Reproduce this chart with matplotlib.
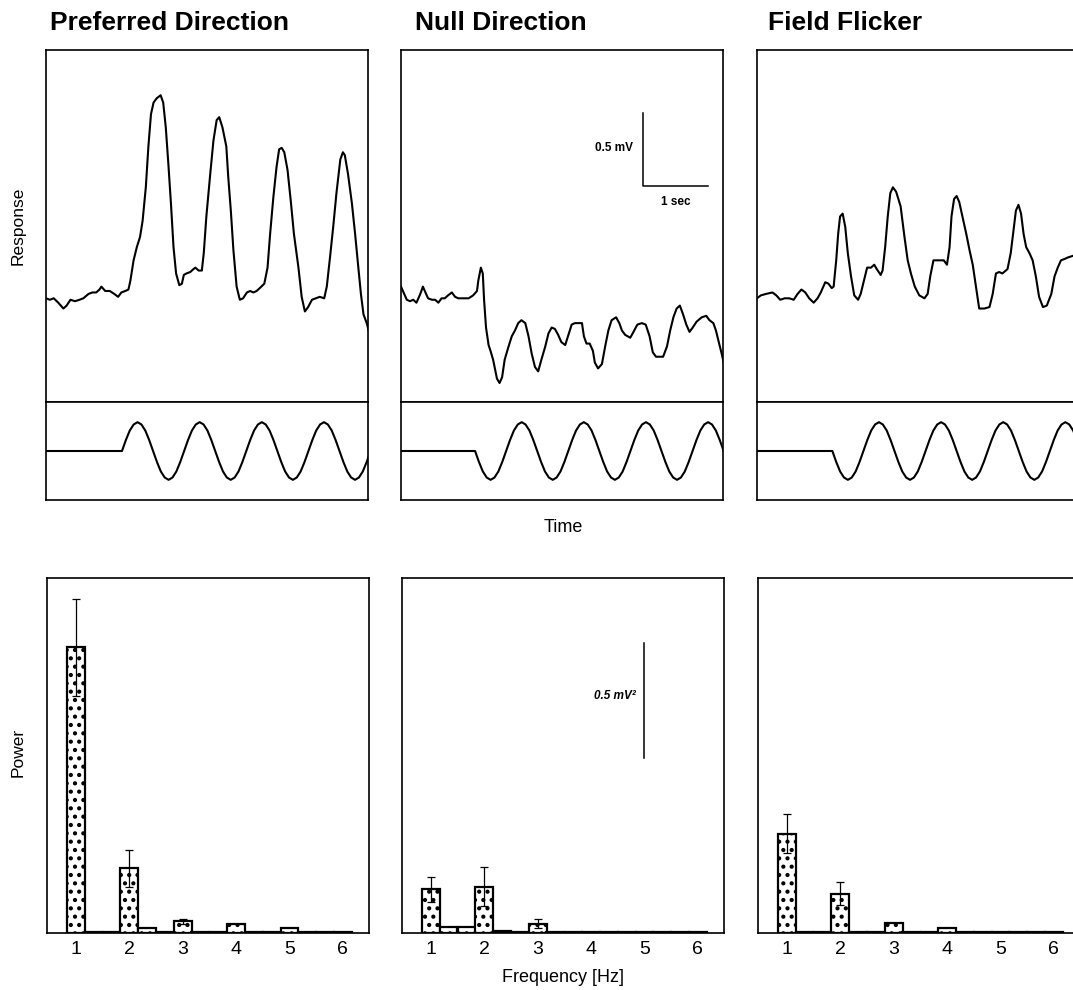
import numpy as np
import matplotlib
matplotlib.use("Agg")
import matplotlib.pyplot as plt

plt.rcParams['font.family'] = ['Liberation Sans', 'DejaVu Sans']
plt.rcParams['hatch.linewidth'] = 1.8

conditions = ["Preferred Direction", "Null Direction", "Field Flicker"]

# membrane response, time in s, potential in mV relative to resting level
pref_t = [0.00, 0.06, 0.12, 0.19, 0.27, 0.32, 0.38, 0.45, 0.52, 0.58, 0.66, 0.72, 0.78, 0.83, 0.86,
          0.92, 0.99, 1.06, 1.12, 1.17, 1.23, 1.28, 1.31, 1.36, 1.41, 1.46, 1.50, 1.55, 1.59, 1.63,
          1.67, 1.72, 1.78, 1.82, 1.86, 1.90, 1.94, 1.98, 2.02, 2.07, 2.11, 2.14, 2.18, 2.24, 2.29,
          2.32, 2.37, 2.42, 2.45, 2.49, 2.55, 2.60, 2.65, 2.69, 2.74, 2.80, 2.83, 2.87, 2.91, 2.96,
          3.01, 3.06, 3.12, 3.17, 3.22, 3.27, 3.32, 3.39, 3.44, 3.48, 3.53, 3.58, 3.62, 3.66, 3.70,
          3.75, 3.80, 3.85, 3.92, 3.97, 4.02, 4.07, 4.13, 4.19, 4.25, 4.32, 4.36, 4.41, 4.46, 4.51,
          4.57, 4.61, 4.64, 4.69, 4.75, 4.80, 4.85, 4.89, 4.93, 4.98, 5.01]
pref_v = [0.00, -0.01, 0.00, -0.03, -0.07, -0.05, -0.01, -0.02, -0.01, 0.00, 0.03, 0.04, 0.04, 0.06, 0.08,
          0.05, 0.05, 0.03, 0.01, 0.04, 0.05, 0.06, 0.12, 0.26, 0.35, 0.42, 0.53, 0.76, 1.04, 1.26,
          1.34, 1.37, 1.39, 1.34, 1.17, 0.92, 0.65, 0.35, 0.17, 0.09, 0.10, 0.16, 0.17, 0.18, 0.20,
          0.21, 0.19, 0.19, 0.31, 0.56, 0.85, 1.08, 1.22, 1.24, 1.17, 1.04, 0.83, 0.60, 0.33, 0.08,
          -0.01, 0.00, 0.04, 0.05, 0.04, 0.05, 0.07, 0.10, 0.21, 0.44, 0.69, 0.90, 1.02, 1.03, 1.00,
          0.88, 0.67, 0.44, 0.21, 0.01, -0.09, -0.06, -0.01, 0.00, 0.01, 0.00, 0.08, 0.28, 0.49, 0.72,
          0.95, 1.00, 0.98, 0.85, 0.65, 0.44, 0.21, 0.03, -0.11, -0.17, -0.22]

null_t = [0.00, 0.04, 0.09, 0.14, 0.19, 0.24, 0.30, 0.34, 0.37, 0.42, 0.48, 0.53, 0.58, 0.63, 0.68,
          0.73, 0.79, 0.84, 0.89, 0.97, 1.05, 1.12, 1.18, 1.20, 1.24, 1.27, 1.29, 1.32, 1.36, 1.39,
          1.43, 1.49, 1.53, 1.57, 1.61, 1.67, 1.72, 1.77, 1.82, 1.87, 1.93, 1.98, 2.03, 2.08, 2.13,
          2.18, 2.24, 2.29, 2.34, 2.39, 2.44, 2.49, 2.55, 2.60, 2.65, 2.70, 2.81, 2.84, 2.88, 2.93,
          2.98, 3.01, 3.06, 3.12, 3.17, 3.22, 3.27, 3.34, 3.39, 3.43, 3.48, 3.56, 3.61, 3.67, 3.74,
          3.80, 3.86, 3.91, 3.96, 4.07, 4.13, 4.18, 4.23, 4.28, 4.33, 4.38, 4.43, 4.48, 4.53, 4.59,
          4.67, 4.74, 4.79, 4.85, 4.89, 4.94, 4.98, 5.01]
null_v = [0.08, 0.04, -0.01, -0.02, -0.01, -0.03, 0.03, 0.08, 0.05, 0.00, -0.01, -0.01, -0.03, 0.00, 0.00,
          0.02, 0.04, 0.01, 0.00, 0.00, 0.00, 0.02, 0.05, 0.12, 0.21, 0.17, -0.01, -0.20, -0.32, -0.36,
          -0.42, -0.55, -0.58, -0.54, -0.42, -0.33, -0.26, -0.22, -0.17, -0.15, -0.17, -0.26, -0.38, -0.47, -0.50,
          -0.42, -0.33, -0.24, -0.20, -0.21, -0.25, -0.30, -0.32, -0.25, -0.18, -0.17, -0.17, -0.26, -0.31, -0.31,
          -0.36, -0.44, -0.48, -0.45, -0.33, -0.22, -0.15, -0.13, -0.17, -0.22, -0.25, -0.27, -0.23, -0.18, -0.17,
          -0.18, -0.26, -0.37, -0.40, -0.40, -0.33, -0.22, -0.13, -0.07, -0.05, -0.11, -0.18, -0.23, -0.20, -0.16,
          -0.13, -0.12, -0.15, -0.17, -0.22, -0.31, -0.38, -0.44]

flick_t = [0.00, 0.06, 0.14, 0.24, 0.30, 0.36, 0.43, 0.50, 0.57, 0.63, 0.69, 0.75, 0.81, 0.88, 0.94,
           0.99, 1.06, 1.11, 1.16, 1.19, 1.23, 1.26, 1.29, 1.33, 1.37, 1.41, 1.46, 1.51, 1.57, 1.61,
           1.66, 1.71, 1.77, 1.82, 1.86, 1.92, 1.95, 1.99, 2.03, 2.07, 2.11, 2.16, 2.23, 2.29, 2.34,
           2.39, 2.45, 2.52, 2.60, 2.65, 2.69, 2.74, 2.80, 2.86, 2.90, 2.95, 2.99, 3.02, 3.06, 3.10,
           3.14, 3.19, 3.25, 3.30, 3.35, 3.40, 3.45, 3.53, 3.61, 3.66, 3.71, 3.76, 3.81, 3.89, 3.94,
           3.99, 4.02, 4.06, 4.10, 4.14, 4.18, 4.23, 4.28, 4.33, 4.38, 4.44, 4.50, 4.57, 4.62, 4.67,
           4.72, 4.78, 4.83, 4.90]
flick_v = [0.00, 0.02, 0.03, 0.04, 0.02, -0.01, 0.00, 0.00, -0.01, 0.03, 0.06, 0.04, 0.00, -0.03, 0.00,
           0.04, 0.11, 0.10, 0.07, 0.08, 0.26, 0.44, 0.56, 0.58, 0.49, 0.31, 0.15, 0.02, -0.01, 0.03,
           0.12, 0.21, 0.21, 0.23, 0.20, 0.16, 0.19, 0.35, 0.56, 0.72, 0.76, 0.73, 0.63, 0.42, 0.26,
           0.17, 0.08, 0.02, 0.00, 0.03, 0.15, 0.26, 0.26, 0.26, 0.26, 0.23, 0.35, 0.56, 0.68, 0.70,
           0.66, 0.56, 0.44, 0.33, 0.23, 0.08, -0.07, -0.07, -0.06, 0.03, 0.17, 0.18, 0.17, 0.20, 0.31,
           0.49, 0.60, 0.64, 0.58, 0.44, 0.35, 0.31, 0.26, 0.15, 0.01, -0.06, -0.05, 0.03, 0.15, 0.21,
           0.26, 0.27, 0.28, 0.29]

traces_t = [pref_t, null_t, flick_t]
traces_v = [pref_v, null_v, flick_v]

# sine-grating stimulus: one cycle in 16 samples, period, onset and starting direction per condition
stim_cycle = [0.0, 0.38, 0.71, 0.92, 1.0, 0.92, 0.71, 0.38,
              0.0, -0.38, -0.71, -0.92, -1.0, -0.92, -0.71, -0.38]
stim_period = 0.965
stim_onset = [1.18, 1.15, 1.17]
stim_sign = [1, -1, -1]

# power spectra, bins of 1/3 Hz (mV^2) with error bars on the main peaks
freq_bins = [1.0, 1.33, 1.67, 2.0, 2.33, 2.67, 3.0, 3.33, 3.67, 4.0, 4.33, 4.67, 5.0, 5.33, 5.67, 6.0]
pref_power = [1.24, 0.004, 0.004, 0.28, 0.02, 0.004, 0.05, 0.004, 0.004, 0.04, 0.004, 0.004, 0.02, 0.004, 0.004, 0.004]
null_power = [0.19, 0.025, 0.025, 0.20, 0.01, 0.004, 0.04, 0.004, 0.004, 0.004, 0.004, 0.004, 0.004, 0.004, 0.004, 0.004]
flick_power = [0.43, 0.004, 0.004, 0.17, 0.004, 0.004, 0.045, 0.004, 0.004, 0.02, 0.004, 0.004, 0.004, 0.004, 0.004, 0.004]
pref_err = [0.21, 0, 0, 0.08, 0, 0, 0.01, 0, 0, 0, 0, 0, 0, 0, 0, 0]
null_err = [0.055, 0, 0, 0.085, 0, 0, 0.02, 0, 0, 0, 0, 0, 0, 0, 0, 0]
flick_err = [0.085, 0, 0, 0.05, 0, 0, 0, 0, 0, 0, 0, 0, 0, 0, 0, 0]
powers = [pref_power, null_power, flick_power]
errors = [pref_err, null_err, flick_err]
freq_ticks = [1, 2, 3, 4, 5, 6]

W, H = 1073, 990
fig = plt.figure(figsize=(W / 100, H / 100), dpi=100)


def box(x0, y0, x1, y1):
    return [x0 / W, 1 - y1 / H, (x1 - x0) / W, (y1 - y0) / H]


def frame(ax):
    for s in ax.spines.values():
        s.set_linewidth(1.2)
    ax.set_xticks([])
    ax.set_yticks([])


lefts = [46, 401, 757]
title_x = [50, 415, 768]
pw = 322

for i in range(3):
    x0 = lefts[i]

    ax = fig.add_axes(box(x0, 50, x0 + pw, 402))
    ax.plot(traces_t[i], traces_v[i], color='black', lw=1.5)
    ax.set_xlim(0, 5)
    ax.set_ylim(-0.71, 1.70)
    frame(ax)
    if i == 1:
        # scale bars
        ax.plot([3.76, 3.76, 4.76], [1.27, 0.77, 0.77], color='black', lw=1.1)
        ax.text(3.6, 1.03, "0.5 mV", ha='right', va='center', fontsize=8.5, weight='bold')
        ax.text(4.26, 0.66, "1 sec", ha='center', va='center', fontsize=8.5, weight='bold')

    sx = fig.add_axes(box(x0, 402, x0 + pw, 500))
    step = stim_period / 16
    n = int((5.0 - stim_onset[i]) / step) + 3
    st = [0.0] + list(stim_onset[i] + np.arange(n) * step)
    sv = [0.0] + [stim_sign[i] * stim_cycle[k % 16] for k in range(n)]
    sx.plot(st, sv, color='black', lw=1.5)
    sx.set_xlim(0, 5)
    sx.set_ylim(-1.7, 1.7)
    frame(sx)

    bx = fig.add_axes(box(x0 + 1, 578, x0 + 1 + pw, 933))
    bx.bar(freq_bins, powers[i], width=1 / 3, color='white', edgecolor='black',
           linewidth=1.6, hatch='..')
    err = np.array(errors[i])
    pts = err > 0
    bx.errorbar(np.array(freq_bins)[pts], np.array(powers[i])[pts], yerr=err[pts],
                fmt='none', ecolor='black', elinewidth=0.9, capsize=3, capthick=0.9)
    bx.set_xlim(0.46, 6.49)
    bx.set_ylim(0, 1.54)
    for s in bx.spines.values():
        s.set_linewidth(1.2)
    bx.set_yticks([])
    bx.set_xticks(freq_ticks)
    bx.tick_params(axis='x', length=0, labelsize=14, pad=6)
    if i == 1:
        bx.plot([5.0, 5.0], [0.76, 1.26], color='black', lw=1.1)
        bx.text(4.83, 1.03, "0.5 mV\u00b2", ha='right', va='center', fontsize=8.5,
                weight='bold', style='italic')

    fig.text(title_x[i] / W, 1 - 23 / H, conditions[i], ha='left', va='center',
             fontsize=19, weight='bold')

fig.text(18 / W, 1 - 226 / H, "Response", rotation=90, ha='center', va='center', fontsize=12.5)
fig.text(18 / W, 1 - 752 / H, "Power", rotation=90, ha='center', va='center', fontsize=12.5)
fig.text(563 / W, 1 - 528 / H, "Time", ha='center', va='center', fontsize=13)
fig.text(563 / W, 1 - 977 / H, "Frequency [Hz]", ha='center', va='center', fontsize=13)

fig.savefig("out.png", dpi=100)
